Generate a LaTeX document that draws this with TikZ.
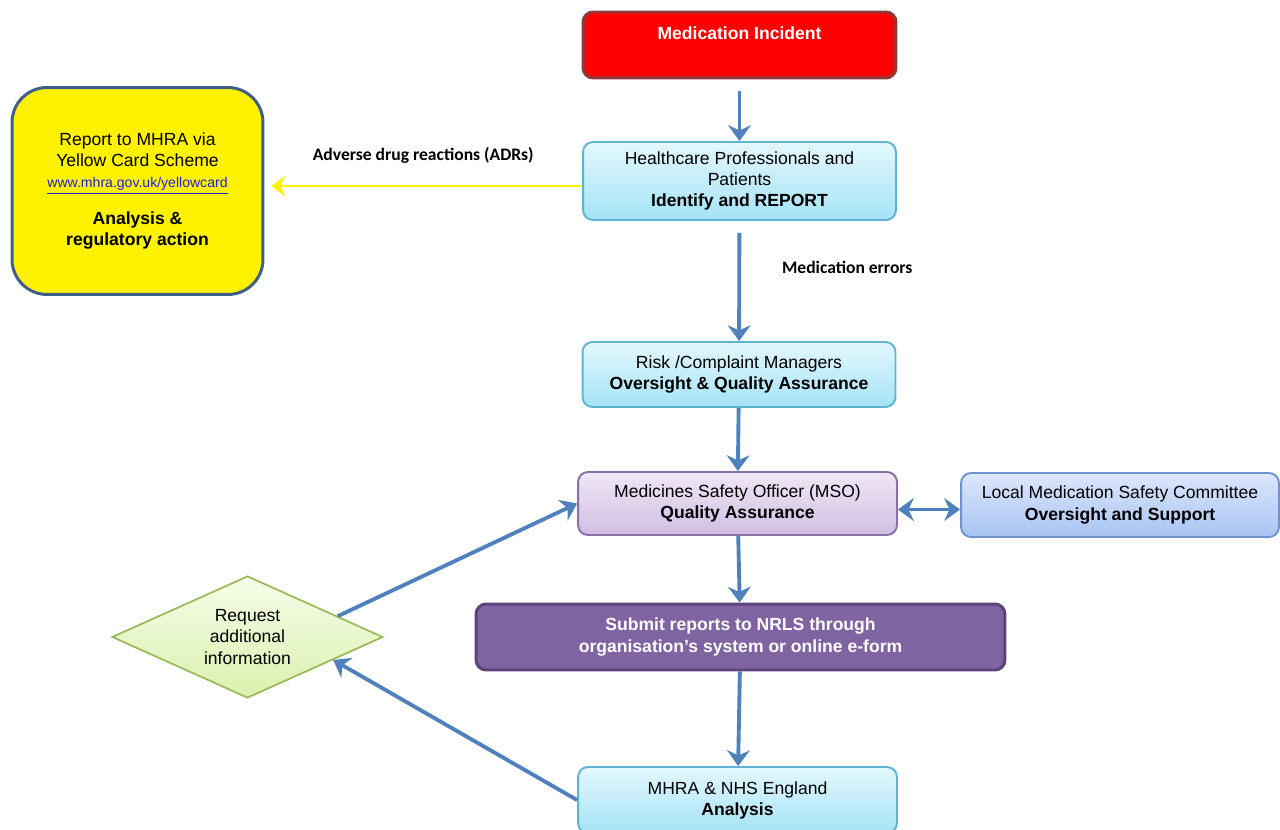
\documentclass[tikz,border=0pt]{standalone}
\usepackage{fontspec}
\setmainfont{Liberation Sans}
\newfontfamily\calibri{Carlito}
\usetikzlibrary{arrows.meta, positioning, shapes.geometric}

\definecolor{flowblue}{HTML}{4F81BD}
\definecolor{cyanedge}{HTML}{5FB3D3}
\definecolor{cyantop}{HTML}{E4F7FD}
\definecolor{cyanbot}{HTML}{A4E3F6}
\definecolor{lilacedge}{HTML}{8A70A8}
\definecolor{lilactop}{HTML}{EFE7F5}
\definecolor{lilacbot}{HTML}{D1BEE3}
\definecolor{skyedge}{HTML}{6F93CF}
\definecolor{skytop}{HTML}{DCE7FB}
\definecolor{skybot}{HTML}{A8C4F3}
\definecolor{nrlsfill}{HTML}{8064A2}
\definecolor{nrlsedge}{HTML}{5B4479}
\definecolor{incidentedge}{HTML}{8C3B3B}
\definecolor{cardedge}{HTML}{3F5E8C}
\definecolor{greenedge}{HTML}{9BBB59}
\definecolor{greentop}{HTML}{F6FCE8}
\definecolor{greenbot}{HTML}{DBF1AE}
\definecolor{linkblue}{HTML}{1F1FE0}

\begin{document}
\begin{tikzpicture}[x=0.02cm, y=-0.02cm,
    font=\fontsize{10}{12}\selectfont,
    box/.style={draw, rounded corners=0.2cm, line width=1.1pt, align=center, inner sep=2pt},
    cyanbox/.style={box, draw=cyanedge, top color=cyantop, bottom color=cyanbot, minimum width=6.26cm},
    msobox/.style={box, draw=lilacedge, top color=lilactop, bottom color=lilacbot, minimum width=6.38cm, minimum height=1.26cm},
    committeebox/.style={box, draw=skyedge, top color=skytop, bottom color=skybot, minimum width=6.36cm, minimum height=1.28cm},
    incidentbox/.style={box, draw=incidentedge, fill=red, line width=1.7pt, minimum width=6.26cm, minimum height=1.32cm},
    nrlsbox/.style={box, draw=nrlsedge, fill=nrlsfill, line width=1.7pt, text=white, font=\bfseries\fontsize{10}{12}\selectfont, minimum width=10.58cm, minimum height=1.32cm},
    cardbox/.style={box, draw=cardedge, fill=yellow, line width=1.7pt, rounded corners=0.7cm, minimum width=5.02cm, minimum height=4.14cm},
    requestbox/.style={diamond, aspect=2.2, draw=greenedge, line width=1pt, top color=greentop, bottom color=greenbot, minimum width=5.42cm, minimum height=2.44cm, inner sep=0pt, align=center},
    flowlabel/.style={font=\calibri\bfseries\fontsize{10}{12}\selectfont},
    flow/.style={draw=flowblue, line width=2.2pt, -{Stealth[length=9pt,width=13pt,inset=3pt]}},
    flowboth/.style={draw=flowblue, line width=2.2pt, {Stealth[length=9pt,width=13pt,inset=3pt]}-{Stealth[length=9pt,width=13pt,inset=3pt]}},
    adrflow/.style={draw=yellow, line width=1.7pt, -{Stealth[length=8pt,width=12pt,inset=3pt]}},
  ]
  \useasboundingbox (0,0) rectangle (1280,830);

  % boxes
  \node[incidentbox] (incident) at (739.5,45) {};
  \node[text=white, font=\bfseries\fontsize{10}{12}\selectfont, below=0.21cm of incident.north] (incidentlabel) {Medication Incident};
  \node[cyanbox, minimum height=1.56cm] (report) at (739.5,181)
    {Healthcare Professionals and\\Patients\\\textbf{Identify and REPORT}};
  \node[cyanbox, minimum height=1.3cm] (riskmgr) at (739,374.5)
    {Risk /Complaint Managers\\\textbf{Oversight \& Quality Assurance}};
  \node[msobox] (mso) at (737.5,503.5)
    {Medicines Safety Officer (MSO)\\\textbf{Quality Assurance}};
  \node[committeebox] (committee) at (1120,505)
    {Local Medication Safety Committee\\\textbf{Oversight and Support}};
  \node[nrlsbox] (nrls) at (740.5,637)
    {Submit reports to NRLS through\\organisation's system or online e-form};
  \node[cyanbox, minimum width=6.38cm, minimum height=1.32cm] (analysis) at (737.5,800)
    {MHRA \& NHS England\\\textbf{Analysis}};
  \node[cardbox] (yellowcard) at (137.5,191)
    {Report to MHRA via\\Yellow Card Scheme\\
     {\fontsize{8}{12}\selectfont\textcolor{linkblue}{\underline{www.mhra.gov.uk/yellowcard}}}\\[9pt]
     \textbf{Analysis \&}\\\textbf{regulatory action}};
  \node[requestbox] (request) at (247.5,637) {Request\\additional\\information};

  % connectors
  \draw[flow, shorten <=0.24cm] (incident) -- (report);
  \draw[flow, shorten <=0.24cm] (report) -- (riskmgr)
    node[flowlabel, pos=0.39, right=0.7cm] (errlabel) {Medication errors};
  \draw[flow] (riskmgr) -- (mso);
  \draw[flow] (mso) -- (nrls);
  \draw[flow] (nrls) -- (analysis);
  \draw[flowboth] ([yshift=-0.12cm]mso.east) -- ([yshift=-0.12cm]mso.east -| committee.west);
  \draw[adrflow, shorten >=0.14cm] ([yshift=-0.1cm]report.west) -- ([yshift=-0.1cm]report.west -| yellowcard.east)
    node[flowlabel, midway, above=0.3cm] (adrlabel) {Adverse drug reactions (ADRs)};
  \draw[flow] (request.13) -- (mso.west);
  \draw[flow] (analysis.west) -- (request.-15);
\end{tikzpicture}
\end{document}
